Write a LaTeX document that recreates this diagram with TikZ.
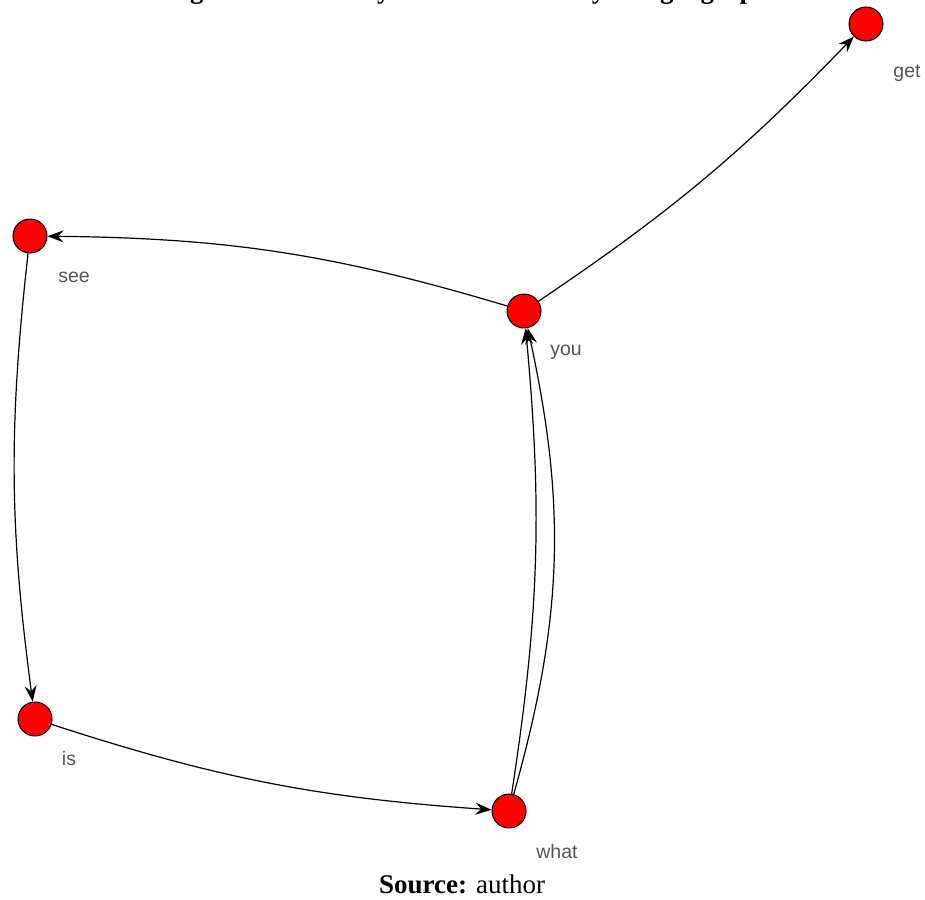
\documentclass[tikz,border=0pt]{standalone}
\usepackage{fontspec}
\setmainfont{Liberation Serif}
\newfontfamily\labfont{Liberation Sans}
\usetikzlibrary{arrows.meta}
\definecolor{labgray}{HTML}{555555}
\tikzset{
  vtx/.style={circle, draw=black, line width=1pt, fill=red, minimum size=34pt, inner sep=0pt},
  lab/.style={font=\labfont\fontsize{19.5}{21}\selectfont, text=labgray, inner sep=0pt},
  edge/.style={draw=black, line width=1.2pt, -{Stealth[length=16pt,width=12pt,inset=5.5pt]}},
}
\begin{document}
\begin{tikzpicture}[x=1pt, y=-1pt]
\useasboundingbox (0,0) rectangle (925,899);
% clipped caption at the top
\begin{scope}
\clip (0,0) rectangle (925,20);
\node[anchor=base west, inner sep=0pt, font=\bfseries\fontsize{27}{30}\selectfont] (cap) at (166,-1.5) {Figure 3 – Word by word structure by using a graph};
\end{scope}
% vertices
\node[vtx] (get) at (866,24) {};
\node[vtx] (see) at (30,236) {};
\node[vtx] (you) at (524,311) {};
\node[vtx] (is) at (35,719) {};
\node[vtx] (what) at (509,811) {};
% labels
\node[lab] (lget) at (907,73) {get};
\node[lab] (lsee) at (74,277) {see};
\node[lab] (lyou) at (566,352) {you};
\node[lab] (lis) at (69,759) {is};
\node[lab] (lwhat) at (557,852) {what};
% edges
\draw[edge] (you) to[bend right=6] (get);
\draw[edge] (you) to[bend right=8] (see);
\draw[edge] (see) to[bend right=7] (is);
\draw[edge] (is) to[bend right=7] (what);
\draw[edge] (what) to[bend right=7] (you);
\draw[edge] (what) to[bend right=14] (you);
% source line
\node[anchor=base, inner sep=0pt, font=\fontsize{27}{30}\selectfont] (src) at (462,893) {\textbf{Source:} author};
\end{tikzpicture}
\end{document}
